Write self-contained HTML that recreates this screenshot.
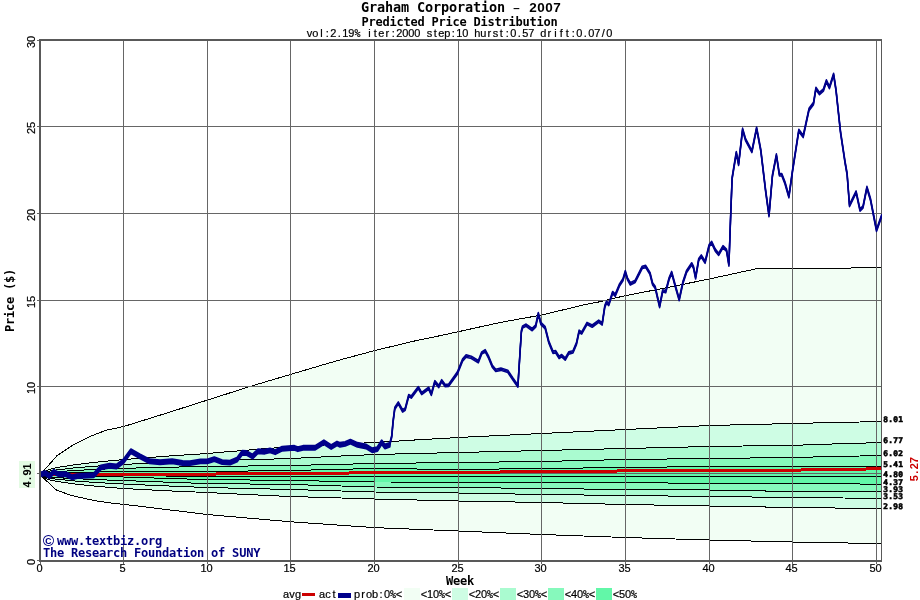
<!DOCTYPE html>
<html><head><meta charset="utf-8"><title>Graham Corporation - 2007</title>
<style>html,body{margin:0;padding:0;background:#fff}body{width:920px;height:600px;position:relative;overflow:hidden}</style></head>
<body>
<svg width="920" height="600" viewBox="0 0 920 600" style="position:absolute;left:0;top:0">
<g shape-rendering="crispEdges">
<polygon points="40.0,474.9 57.0,455.7 72.7,445.2 89.3,436.7 106.0,430.3 123.7,426.5 166.0,413.3 207.7,400.0 249.3,386.7 291.0,374.3 336.0,361.0 375.0,350.5 416.7,340.5 440.0,335.7 458.3,331.7 500.0,322.5 541.7,315.0 583.3,305.0 600.0,301.7 625.0,295.7 660.0,289.0 709.3,279.0 743.3,271.6 757.8,268.5 850.5,268.5 851.5,267.5 881.0,267.5 881.0,543.6 792.4,542.0 708.8,540.0 625.2,537.5 541.6,534.5 458.0,531.0 374.4,527.6 290.8,521.8 207.2,514.5 123.6,504.3 116.0,503.7 94.3,500.6 71.0,495.4 56.4,490.0 47.7,482.0 40.0,474.9" fill="#f2fef4"/>
<polygon points="40.0,474.9 48.4,469.6 56.7,467.6 73.5,464.9 90.2,462.8 106.9,461.1 123.6,459.6 140.4,458.2 157.1,456.9 173.8,455.7 190.6,454.6 207.3,453.5 224.0,452.0 240.7,450.7 257.5,449.3 274.2,448.0 290.9,446.8 307.6,445.9 324.4,445.0 341.1,444.1 357.8,443.3 374.6,442.5 391.3,441.5 408.0,440.4 424.7,439.4 441.5,438.5 458.2,437.5 474.9,436.7 491.7,435.9 508.4,435.1 525.1,434.3 541.8,433.5 558.6,432.7 575.3,431.9 592.0,431.1 608.8,430.3 625.5,429.5 642.2,428.7 658.9,427.9 675.7,427.1 692.4,426.3 709.1,425.5 725.8,425.1 742.6,424.7 759.3,424.3 776.0,423.9 792.8,423.5 809.5,423.1 826.2,422.7 842.9,422.4 859.7,422.0 876.4,421.6 881.4,421.5 881.4,508.5 876.4,508.4 859.7,508.3 842.9,508.1 826.2,507.9 809.5,507.7 792.8,507.5 776.0,507.2 759.3,506.9 742.6,506.6 725.8,506.3 709.1,506.0 692.4,505.7 675.7,505.4 658.9,505.1 642.2,504.8 625.5,504.5 608.8,504.1 592.0,503.7 575.3,503.3 558.6,502.9 541.8,502.5 525.1,502.2 508.4,501.9 491.7,501.6 474.9,501.3 458.2,501.0 441.5,500.6 424.7,500.2 408.0,499.8 391.3,499.4 374.6,499.0 357.8,498.5 341.1,498.0 324.4,497.5 307.6,497.0 290.9,496.5 274.2,495.8 257.5,495.0 240.7,494.2 224.0,493.4 207.3,492.5 190.6,491.8 173.8,491.1 157.1,490.3 140.4,489.4 123.6,488.5 106.9,487.2 90.2,485.7 73.5,483.8 56.7,481.4 48.4,479.6 40.0,474.9" fill="#cefde4"/>
<polygon points="40.0,474.9 48.4,471.3 56.7,469.9 73.5,468.0 90.2,466.6 106.9,465.4 123.6,464.4 140.4,463.6 157.1,462.9 173.8,462.2 190.6,461.6 207.3,461.0 224.0,460.5 240.7,459.9 257.5,459.4 274.2,459.0 290.9,458.5 307.6,457.7 324.4,456.8 341.1,456.0 357.8,455.3 374.6,454.5 391.3,454.1 408.0,453.7 424.7,453.3 441.5,452.9 458.2,452.5 474.9,452.1 491.7,451.7 508.4,451.3 525.1,450.9 541.8,450.5 558.6,450.1 575.3,449.7 592.0,449.3 608.8,448.9 625.5,448.5 642.2,448.1 658.9,447.7 675.7,447.3 692.4,446.9 709.1,446.5 725.8,446.3 742.6,446.0 759.3,445.8 776.0,445.5 792.8,445.3 809.5,444.8 826.2,444.2 842.9,443.7 859.7,443.2 876.4,442.7 881.4,442.5 881.4,498.3 876.4,498.3 859.7,498.1 842.9,498.0 826.2,497.8 809.5,497.7 792.8,497.5 776.0,497.3 759.3,497.1 742.6,496.9 725.8,496.7 709.1,496.5 692.4,496.3 675.7,496.1 658.9,495.9 642.2,495.7 625.5,495.5 608.8,495.3 592.0,495.1 575.3,494.9 558.6,494.7 541.8,494.5 525.1,494.2 508.4,493.9 491.7,493.6 474.9,493.3 458.2,493.0 441.5,492.8 424.7,492.6 408.0,492.4 391.3,492.2 374.6,492.0 357.8,491.5 341.1,491.0 324.4,490.5 307.6,490.0 290.9,489.5 274.2,489.1 257.5,488.7 240.7,488.3 224.0,487.9 207.3,487.5 190.6,486.9 173.8,486.2 157.1,485.5 140.4,484.8 123.6,484.0 106.9,483.1 90.2,482.1 73.5,480.9 56.7,479.2 48.4,478.1 40.0,474.9" fill="#aafbd0"/>
<polygon points="40.0,474.9 48.4,472.6 56.7,471.7 73.5,470.6 90.2,469.7 106.9,468.9 123.6,468.3 140.4,467.9 157.1,467.5 173.8,467.1 190.6,466.8 207.3,466.5 224.0,466.3 240.7,466.1 257.5,465.9 274.2,465.7 290.9,465.5 307.6,465.1 324.4,464.7 341.1,464.3 357.8,463.9 374.6,463.5 391.3,463.3 408.0,463.1 424.7,462.9 441.5,462.7 458.2,462.5 474.9,462.3 491.7,462.1 508.4,461.9 525.1,461.7 541.8,461.5 558.6,461.1 575.3,460.7 592.0,460.3 608.8,459.9 625.5,459.5 642.2,459.3 658.9,459.1 675.7,458.9 692.4,458.7 709.1,458.5 725.8,458.3 742.6,458.1 759.3,457.9 776.0,457.7 792.8,457.5 809.5,457.1 826.2,456.7 842.9,456.4 859.7,456.0 876.4,455.6 881.4,455.5 881.4,491.3 876.4,491.3 859.7,491.3 842.9,491.4 826.2,491.4 809.5,491.5 792.8,491.5 776.0,491.2 759.3,490.9 742.6,490.6 725.8,490.3 709.1,490.0 692.4,489.9 675.7,489.8 658.9,489.7 642.2,489.6 625.5,489.5 608.8,489.3 592.0,489.1 575.3,488.9 558.6,488.7 541.8,488.5 525.1,488.3 508.4,488.1 491.7,487.9 474.9,487.7 458.2,487.5 441.5,487.4 424.7,487.3 408.0,487.2 391.3,487.1 374.6,487.0 357.8,486.5 341.1,486.0 324.4,485.5 307.6,485.0 290.9,484.5 274.2,484.3 257.5,484.1 240.7,483.9 224.0,483.7 207.3,483.5 190.6,483.0 173.8,482.4 157.1,481.8 140.4,481.2 123.6,480.5 106.9,480.0 90.2,479.3 73.5,478.6 56.7,477.6 48.4,476.8 40.0,474.9" fill="#86f9bc"/>
<polygon points="40.0,474.9 48.4,473.7 56.7,473.3 73.5,472.7 90.2,472.2 106.9,471.8 123.6,471.5 140.4,471.5 157.1,471.5 173.8,471.5 190.6,471.5 207.3,471.5 224.0,471.3 240.7,471.1 257.5,470.9 274.2,470.7 290.9,470.5 307.6,470.1 324.4,469.7 341.1,469.3 357.8,468.9 374.6,468.5 391.3,468.7 408.0,468.9 424.7,469.1 441.5,469.3 458.2,469.5 474.9,469.3 491.7,469.1 508.4,468.9 525.1,468.7 541.8,468.5 558.6,468.3 575.3,468.1 592.0,467.9 608.8,467.7 625.5,467.5 642.2,467.3 658.9,467.1 675.7,466.9 692.4,466.7 709.1,466.5 725.8,466.5 742.6,466.5 759.3,466.5 776.0,466.5 792.8,466.5 809.5,466.4 826.2,466.4 842.9,466.3 859.7,466.3 876.4,466.2 881.4,466.2 881.4,484.2 876.4,484.2 859.7,484.0 842.9,483.9 826.2,483.8 809.5,483.6 792.8,483.5 776.0,483.5 759.3,483.5 742.6,483.5 725.8,483.5 709.1,483.5 692.4,483.3 675.7,483.1 658.9,482.9 642.2,482.7 625.5,482.5 608.8,482.5 592.0,482.5 575.3,482.5 558.6,482.5 541.8,482.5 525.1,482.4 508.4,482.3 491.7,482.2 474.9,482.1 458.2,482.0 441.5,482.0 424.7,482.0 408.0,482.0 391.3,482.0 374.6,482.0 357.8,481.7 341.1,481.4 324.4,481.1 307.6,480.8 290.9,480.5 274.2,480.3 257.5,480.1 240.7,479.9 224.0,479.7 207.3,479.5 190.6,479.1 173.8,478.6 157.1,478.1 140.4,477.6 123.6,477.0 106.9,476.8 90.2,476.6 73.5,476.3 56.7,475.9 48.4,475.6 40.0,474.9" fill="#62f7a8"/>
<polyline points="40.0,474.9 48.4,469.6 56.7,467.6 73.5,464.9 90.2,462.8 106.9,461.1 123.6,459.6 140.4,458.2 157.1,456.9 173.8,455.7 190.6,454.6 207.3,453.5 224.0,452.0 240.7,450.7 257.5,449.3 274.2,448.0 290.9,446.8 307.6,445.9 324.4,445.0 341.1,444.1 357.8,443.3 374.6,442.5 391.3,441.5 408.0,440.4 424.7,439.4 441.5,438.5 458.2,437.5 474.9,436.7 491.7,435.9 508.4,435.1 525.1,434.3 541.8,433.5 558.6,432.7 575.3,431.9 592.0,431.1 608.8,430.3 625.5,429.5 642.2,428.7 658.9,427.9 675.7,427.1 692.4,426.3 709.1,425.5 725.8,425.1 742.6,424.7 759.3,424.3 776.0,423.9 792.8,423.5 809.5,423.1 826.2,422.7 842.9,422.4 859.7,422.0 876.4,421.6 881.4,421.5" fill="none" stroke="#000" stroke-width="1"/>
<polyline points="40.0,474.9 48.4,471.3 56.7,469.9 73.5,468.0 90.2,466.6 106.9,465.4 123.6,464.4 140.4,463.6 157.1,462.9 173.8,462.2 190.6,461.6 207.3,461.0 224.0,460.5 240.7,459.9 257.5,459.4 274.2,459.0 290.9,458.5 307.6,457.7 324.4,456.8 341.1,456.0 357.8,455.3 374.6,454.5 391.3,454.1 408.0,453.7 424.7,453.3 441.5,452.9 458.2,452.5 474.9,452.1 491.7,451.7 508.4,451.3 525.1,450.9 541.8,450.5 558.6,450.1 575.3,449.7 592.0,449.3 608.8,448.9 625.5,448.5 642.2,448.1 658.9,447.7 675.7,447.3 692.4,446.9 709.1,446.5 725.8,446.3 742.6,446.0 759.3,445.8 776.0,445.5 792.8,445.3 809.5,444.8 826.2,444.2 842.9,443.7 859.7,443.2 876.4,442.7 881.4,442.5" fill="none" stroke="#000" stroke-width="1"/>
<polyline points="40.0,474.9 48.4,472.6 56.7,471.7 73.5,470.6 90.2,469.7 106.9,468.9 123.6,468.3 140.4,467.9 157.1,467.5 173.8,467.1 190.6,466.8 207.3,466.5 224.0,466.3 240.7,466.1 257.5,465.9 274.2,465.7 290.9,465.5 307.6,465.1 324.4,464.7 341.1,464.3 357.8,463.9 374.6,463.5 391.3,463.3 408.0,463.1 424.7,462.9 441.5,462.7 458.2,462.5 474.9,462.3 491.7,462.1 508.4,461.9 525.1,461.7 541.8,461.5 558.6,461.1 575.3,460.7 592.0,460.3 608.8,459.9 625.5,459.5 642.2,459.3 658.9,459.1 675.7,458.9 692.4,458.7 709.1,458.5 725.8,458.3 742.6,458.1 759.3,457.9 776.0,457.7 792.8,457.5 809.5,457.1 826.2,456.7 842.9,456.4 859.7,456.0 876.4,455.6 881.4,455.5" fill="none" stroke="#000" stroke-width="1"/>
<polyline points="40.0,474.9 48.4,473.7 56.7,473.3 73.5,472.7 90.2,472.2 106.9,471.8 123.6,471.5 140.4,471.5 157.1,471.5 173.8,471.5 190.6,471.5 207.3,471.5 224.0,471.3 240.7,471.1 257.5,470.9 274.2,470.7 290.9,470.5 307.6,470.1 324.4,469.7 341.1,469.3 357.8,468.9 374.6,468.5 391.3,468.7 408.0,468.9 424.7,469.1 441.5,469.3 458.2,469.5 474.9,469.3 491.7,469.1 508.4,468.9 525.1,468.7 541.8,468.5 558.6,468.3 575.3,468.1 592.0,467.9 608.8,467.7 625.5,467.5 642.2,467.3 658.9,467.1 675.7,466.9 692.4,466.7 709.1,466.5 725.8,466.5 742.6,466.5 759.3,466.5 776.0,466.5 792.8,466.5 809.5,466.4 826.2,466.4 842.9,466.3 859.7,466.3 876.4,466.2 881.4,466.2" fill="none" stroke="#000" stroke-width="1"/>
<polyline points="40.0,474.9 48.4,475.1 56.7,475.2 73.5,475.3 90.2,475.4 106.9,475.4 123.6,475.5 140.4,475.7 157.1,475.9 173.8,476.1 190.6,476.3 207.3,476.5 224.0,476.5 240.7,476.5 257.5,476.5 274.2,476.5 290.9,476.5 307.6,476.5 324.4,476.5 341.1,476.5 357.8,476.5 374.6,476.5 391.3,476.5 408.0,476.5 424.7,476.5 441.5,476.5 458.2,476.5 474.9,476.5 491.7,476.5 508.4,476.5 525.1,476.5 541.8,476.5 558.6,476.5 575.3,476.5 592.0,476.5 608.8,476.5 625.5,476.5 642.2,476.5 658.9,476.5 675.7,476.5 692.4,476.5 709.1,476.5 725.8,476.5 742.6,476.5 759.3,476.5 776.0,476.5 792.8,476.5 809.5,476.5 826.2,476.5 842.9,476.6 859.7,476.6 876.4,476.6 881.4,476.6" fill="none" stroke="#000" stroke-width="1"/>
<polyline points="40.0,474.9 48.4,475.6 56.7,475.9 73.5,476.3 90.2,476.6 106.9,476.8 123.6,477.0 140.4,477.6 157.1,478.1 173.8,478.6 190.6,479.1 207.3,479.5 224.0,479.7 240.7,479.9 257.5,480.1 274.2,480.3 290.9,480.5 307.6,480.8 324.4,481.1 341.1,481.4 357.8,481.7 374.6,482.0 391.3,482.0 408.0,482.0 424.7,482.0 441.5,482.0 458.2,482.0 474.9,482.1 491.7,482.2 508.4,482.3 525.1,482.4 541.8,482.5 558.6,482.5 575.3,482.5 592.0,482.5 608.8,482.5 625.5,482.5 642.2,482.7 658.9,482.9 675.7,483.1 692.4,483.3 709.1,483.5 725.8,483.5 742.6,483.5 759.3,483.5 776.0,483.5 792.8,483.5 809.5,483.6 826.2,483.8 842.9,483.9 859.7,484.0 876.4,484.2 881.4,484.2" fill="none" stroke="#000" stroke-width="1"/>
<polyline points="40.0,474.9 48.4,476.8 56.7,477.6 73.5,478.6 90.2,479.3 106.9,480.0 123.6,480.5 140.4,481.2 157.1,481.8 173.8,482.4 190.6,483.0 207.3,483.5 224.0,483.7 240.7,483.9 257.5,484.1 274.2,484.3 290.9,484.5 307.6,485.0 324.4,485.5 341.1,486.0 357.8,486.5 374.6,487.0 391.3,487.1 408.0,487.2 424.7,487.3 441.5,487.4 458.2,487.5 474.9,487.7 491.7,487.9 508.4,488.1 525.1,488.3 541.8,488.5 558.6,488.7 575.3,488.9 592.0,489.1 608.8,489.3 625.5,489.5 642.2,489.6 658.9,489.7 675.7,489.8 692.4,489.9 709.1,490.0 725.8,490.3 742.6,490.6 759.3,490.9 776.0,491.2 792.8,491.5 809.5,491.5 826.2,491.4 842.9,491.4 859.7,491.3 876.4,491.3 881.4,491.3" fill="none" stroke="#000" stroke-width="1"/>
<polyline points="40.0,474.9 48.4,478.1 56.7,479.2 73.5,480.9 90.2,482.1 106.9,483.1 123.6,484.0 140.4,484.8 157.1,485.5 173.8,486.2 190.6,486.9 207.3,487.5 224.0,487.9 240.7,488.3 257.5,488.7 274.2,489.1 290.9,489.5 307.6,490.0 324.4,490.5 341.1,491.0 357.8,491.5 374.6,492.0 391.3,492.2 408.0,492.4 424.7,492.6 441.5,492.8 458.2,493.0 474.9,493.3 491.7,493.6 508.4,493.9 525.1,494.2 541.8,494.5 558.6,494.7 575.3,494.9 592.0,495.1 608.8,495.3 625.5,495.5 642.2,495.7 658.9,495.9 675.7,496.1 692.4,496.3 709.1,496.5 725.8,496.7 742.6,496.9 759.3,497.1 776.0,497.3 792.8,497.5 809.5,497.7 826.2,497.8 842.9,498.0 859.7,498.1 876.4,498.3 881.4,498.3" fill="none" stroke="#000" stroke-width="1"/>
<polyline points="40.0,474.9 48.4,479.6 56.7,481.4 73.5,483.8 90.2,485.7 106.9,487.2 123.6,488.5 140.4,489.4 157.1,490.3 173.8,491.1 190.6,491.8 207.3,492.5 224.0,493.4 240.7,494.2 257.5,495.0 274.2,495.8 290.9,496.5 307.6,497.0 324.4,497.5 341.1,498.0 357.8,498.5 374.6,499.0 391.3,499.4 408.0,499.8 424.7,500.2 441.5,500.6 458.2,501.0 474.9,501.3 491.7,501.6 508.4,501.9 525.1,502.2 541.8,502.5 558.6,502.9 575.3,503.3 592.0,503.7 608.8,504.1 625.5,504.5 642.2,504.8 658.9,505.1 675.7,505.4 692.4,505.7 709.1,506.0 725.8,506.3 742.6,506.6 759.3,506.9 776.0,507.2 792.8,507.5 809.5,507.7 826.2,507.9 842.9,508.1 859.7,508.3 876.4,508.4 881.4,508.5" fill="none" stroke="#000" stroke-width="1"/>
<polyline points="40.0,474.9 57.0,455.7 72.7,445.2 89.3,436.7 106.0,430.3 123.7,426.5 166.0,413.3 207.7,400.0 249.3,386.7 291.0,374.3 336.0,361.0 375.0,350.5 416.7,340.5 440.0,335.7 458.3,331.7 500.0,322.5 541.7,315.0 583.3,305.0 600.0,301.7 625.0,295.7 660.0,289.0 709.3,279.0 743.3,271.6 757.8,268.5 850.5,268.5 851.5,267.5 881.0,267.5" fill="none" stroke="#000" stroke-width="1"/>
<polyline points="40.0,474.9 47.7,482.0 56.4,490.0 71.0,495.4 94.3,500.6 116.0,503.7 123.6,504.3 207.2,514.5 290.8,521.8 374.4,527.6 458.0,531.0 541.6,534.5 625.2,537.5 708.8,540.0 792.4,542.0 881.0,543.6" fill="none" stroke="#000" stroke-width="1"/>
<rect x="123" y="41" width="1" height="523" fill="#666666"/>
<rect x="207" y="41" width="1" height="523" fill="#666666"/>
<rect x="290" y="41" width="1" height="523" fill="#666666"/>
<rect x="374" y="41" width="1" height="523" fill="#666666"/>
<rect x="458" y="41" width="1" height="523" fill="#666666"/>
<rect x="541" y="41" width="1" height="523" fill="#666666"/>
<rect x="625" y="41" width="1" height="523" fill="#666666"/>
<rect x="709" y="41" width="1" height="523" fill="#666666"/>
<rect x="792" y="41" width="1" height="523" fill="#666666"/>
<rect x="876" y="41" width="1" height="523" fill="#666666"/>
<rect x="37" y="473" width="845" height="1" fill="#666666"/>
<rect x="37" y="386" width="845" height="1" fill="#666666"/>
<rect x="37" y="300" width="845" height="1" fill="#666666"/>
<rect x="37" y="213" width="845" height="1" fill="#666666"/>
<rect x="37" y="126" width="845" height="1" fill="#666666"/>
<rect x="40" y="473" width="176" height="3" fill="#cc0000"/>
<rect x="216" y="472" width="133" height="3" fill="#cc0000"/>
<rect x="349" y="471" width="151" height="3" fill="#cc0000"/>
<rect x="500" y="470" width="117" height="3" fill="#cc0000"/>
<rect x="617" y="469" width="184" height="3" fill="#cc0000"/>
<rect x="801" y="468" width="65" height="3" fill="#cc0000"/>
<rect x="866" y="467" width="16" height="3" fill="#cc0000"/>
<rect x="39" y="39" width="2" height="523" fill="#595959"/>
<rect x="39" y="39" width="843" height="2" fill="#595959"/>
<rect x="39" y="560" width="843" height="2" fill="#595959"/>
<rect x="881" y="39" width="1" height="523" fill="#595959"/>
<rect x="37" y="40" width="2" height="1" fill="#666666"/>
<rect x="37" y="560" width="2" height="1" fill="#666666"/>
<rect x="40" y="562" width="1" height="2" fill="#666666"/>
</g>
<clipPath id="pc"><rect x="41" y="41" width="841" height="519"/></clipPath>
<g fill="none" stroke="#00008b" stroke-linejoin="round" stroke-linecap="round" clip-path="url(#pc)">
<polyline points="40.9,474.3 45.2,473.1 49.6,476.1 53.9,471.7 58.3,474.3 66.1,474.3 72.2,477.3 77.4,476.1 93.9,475.2 100.9,467.4 109.6,465.7 116.5,466.5 123.5,461.3 130.8,451.2 140.0,456.4 149.6,461.3 160.0,462.2 172.2,461.3 182.6,463.0 190.0,463.1 200.4,461.4 207.4,461.4 214.3,459.1 222.2,462.1 230.0,462.6 237.0,459.7 242.2,452.7 246.5,453.0 252.6,456.5 257.8,451.3 264.8,451.7 270.0,450.4 275.2,452.2 282.2,448.7 294.3,447.8 297.8,449.2 303.0,447.8 315.2,447.8 323.9,442.3 331.2,447.0 337.0,443.5 340.0,444.8 345.2,443.9 350.4,441.7 357.4,444.8 366.1,446.5 372.2,450.3 377.4,449.1 381.7,442.2 384.9,446.5 389.6,444.8" stroke-width="1.9" transform="translate(0,-2)"/>
<polyline points="40.9,474.3 45.2,473.1 49.6,476.1 53.9,471.7 58.3,474.3 66.1,474.3 72.2,477.3 77.4,476.1 93.9,475.2 100.9,467.4 109.6,465.7 116.5,466.5 123.5,461.3 130.8,451.2 140.0,456.4 149.6,461.3 160.0,462.2 172.2,461.3 182.6,463.0 190.0,463.1 200.4,461.4 207.4,461.4 214.3,459.1 222.2,462.1 230.0,462.6 237.0,459.7 242.2,452.7 246.5,453.0 252.6,456.5 257.8,451.3 264.8,451.7 270.0,450.4 275.2,452.2 282.2,448.7 294.3,447.8 297.8,449.2 303.0,447.8 315.2,447.8 323.9,442.3 331.2,447.0 337.0,443.5 340.0,444.8 345.2,443.9 350.4,441.7 357.4,444.8 366.1,446.5 372.2,450.3 377.4,449.1 381.7,442.2 384.9,446.5 389.6,444.8" stroke-width="1.9" transform="translate(0,-1)"/>
<polyline points="40.9,474.3 45.2,473.1 49.6,476.1 53.9,471.7 58.3,474.3 66.1,474.3 72.2,477.3 77.4,476.1 93.9,475.2 100.9,467.4 109.6,465.7 116.5,466.5 123.5,461.3 130.8,451.2 140.0,456.4 149.6,461.3 160.0,462.2 172.2,461.3 182.6,463.0 190.0,463.1 200.4,461.4 207.4,461.4 214.3,459.1 222.2,462.1 230.0,462.6 237.0,459.7 242.2,452.7 246.5,453.0 252.6,456.5 257.8,451.3 264.8,451.7 270.0,450.4 275.2,452.2 282.2,448.7 294.3,447.8 297.8,449.2 303.0,447.8 315.2,447.8 323.9,442.3 331.2,447.0 337.0,443.5 340.0,444.8 345.2,443.9 350.4,441.7 357.4,444.8 366.1,446.5 372.2,450.3 377.4,449.1 381.7,442.2 384.9,446.5 389.6,444.8" stroke-width="1.9" transform="translate(0,0)"/>
<polyline points="40.9,474.3 45.2,473.1 49.6,476.1 53.9,471.7 58.3,474.3 66.1,474.3 72.2,477.3 77.4,476.1 93.9,475.2 100.9,467.4 109.6,465.7 116.5,466.5 123.5,461.3 130.8,451.2 140.0,456.4 149.6,461.3 160.0,462.2 172.2,461.3 182.6,463.0 190.0,463.1 200.4,461.4 207.4,461.4 214.3,459.1 222.2,462.1 230.0,462.6 237.0,459.7 242.2,452.7 246.5,453.0 252.6,456.5 257.8,451.3 264.8,451.7 270.0,450.4 275.2,452.2 282.2,448.7 294.3,447.8 297.8,449.2 303.0,447.8 315.2,447.8 323.9,442.3 331.2,447.0 337.0,443.5 340.0,444.8 345.2,443.9 350.4,441.7 357.4,444.8 366.1,446.5 372.2,450.3 377.4,449.1 381.7,442.2 384.9,446.5 389.6,444.8" stroke-width="1.9" transform="translate(0,1)"/>
<polyline points="40.9,474.3 45.2,473.1 49.6,476.1 53.9,471.7 58.3,474.3 66.1,474.3 72.2,477.3 77.4,476.1 93.9,475.2 100.9,467.4 109.6,465.7 116.5,466.5 123.5,461.3 130.8,451.2 140.0,456.4 149.6,461.3 160.0,462.2 172.2,461.3 182.6,463.0 190.0,463.1 200.4,461.4 207.4,461.4 214.3,459.1 222.2,462.1 230.0,462.6 237.0,459.7 242.2,452.7 246.5,453.0 252.6,456.5 257.8,451.3 264.8,451.7 270.0,450.4 275.2,452.2 282.2,448.7 294.3,447.8 297.8,449.2 303.0,447.8 315.2,447.8 323.9,442.3 331.2,447.0 337.0,443.5 340.0,444.8 345.2,443.9 350.4,441.7 357.4,444.8 366.1,446.5 372.2,450.3 377.4,449.1 381.7,442.2 384.9,446.5 389.6,444.8" stroke-width="1.9" transform="translate(0,2)"/>
<polyline points="389.6,444.8 391.8,436.1 393.0,422.2 394.8,408.3 398.3,403.0 402.6,410.9 405.2,409.1 408.7,395.7 411.3,397.0 418.3,387.7 421.7,393.5 428.7,388.3 431.3,394.3 434.8,381.8 438.8,386.5 441.7,380.8 445.2,385.6 448.7,385.2 457.4,373.0 462.6,360.0 466.1,356.0 471.3,357.4 478.3,361.7 481.7,353.0 485.2,350.8 488.7,357.4 492.2,366.1 495.7,370.4 500.9,369.2 507.8,371.3 513.0,379.1 517.9,386.1 519.7,357.4 521.4,331.3 522.6,327.0 526.1,325.2 532.2,329.6 535.7,326.1 538.3,313.6 540.9,323.5 545.2,327.8 548.7,341.7 553.0,352.2 555.7,351.8 559.1,357.4 561.7,355.7 565.2,359.1 568.7,353.0 573.0,351.8 576.5,343.5 579.1,331.3 581.7,333.0 587.0,323.5 592.2,326.1 598.7,321.3 602.2,323.9 604.8,306.5 606.5,302.2 608.8,304.4 612.6,292.6 615.2,295.2 619.6,284.8 623.0,279.6 625.3,271.7 627.4,278.7 630.3,283.9 635.2,281.3 642.2,267.4 645.7,266.5 650.0,273.5 652.6,283.9 655.2,287.4 659.6,306.5 662.7,290.9 665.7,291.7 669.1,278.7 671.7,272.6 675.2,285.7 679.2,299.6 683.0,282.2 686.5,271.7 691.7,263.9 693.5,267.4 695.6,277.8 698.7,259.6 701.3,256.1 705.1,262.2 709.1,245.7 711.7,242.5 715.2,250.0 718.7,254.3 723.0,246.8 726.5,250.2 728.9,265.0 730.5,220.2 732.1,178.3 736.3,152.6 738.6,164.3 742.6,129.3 745.6,139.8 751.9,151.5 756.6,128.2 760.8,150.3 765.5,189.9 769.0,215.6 772.4,175.9 776.4,155.0 779.4,174.8 781.8,174.8 785.0,183.0 788.9,196.7 792.5,171.0 798.8,130.5 803.2,136.4 809.0,109.5 813.5,103.5 815.9,88.5 819.5,93.6 823.4,90.0 826.4,81.0 829.4,87.6 833.6,74.4 836.0,90.0 840.5,132.0 845.0,162.0 847.1,174.0 849.5,205.5 856.1,192.0 860.0,210.0 863.0,207.0 866.9,187.5 870.5,199.5 876.5,230.4 881.6,216.0" stroke-width="1.5" transform="translate(0,-1.2)"/>
<polyline points="389.6,444.8 391.8,436.1 393.0,422.2 394.8,408.3 398.3,403.0 402.6,410.9 405.2,409.1 408.7,395.7 411.3,397.0 418.3,387.7 421.7,393.5 428.7,388.3 431.3,394.3 434.8,381.8 438.8,386.5 441.7,380.8 445.2,385.6 448.7,385.2 457.4,373.0 462.6,360.0 466.1,356.0 471.3,357.4 478.3,361.7 481.7,353.0 485.2,350.8 488.7,357.4 492.2,366.1 495.7,370.4 500.9,369.2 507.8,371.3 513.0,379.1 517.9,386.1 519.7,357.4 521.4,331.3 522.6,327.0 526.1,325.2 532.2,329.6 535.7,326.1 538.3,313.6 540.9,323.5 545.2,327.8 548.7,341.7 553.0,352.2 555.7,351.8 559.1,357.4 561.7,355.7 565.2,359.1 568.7,353.0 573.0,351.8 576.5,343.5 579.1,331.3 581.7,333.0 587.0,323.5 592.2,326.1 598.7,321.3 602.2,323.9 604.8,306.5 606.5,302.2 608.8,304.4 612.6,292.6 615.2,295.2 619.6,284.8 623.0,279.6 625.3,271.7 627.4,278.7 630.3,283.9 635.2,281.3 642.2,267.4 645.7,266.5 650.0,273.5 652.6,283.9 655.2,287.4 659.6,306.5 662.7,290.9 665.7,291.7 669.1,278.7 671.7,272.6 675.2,285.7 679.2,299.6 683.0,282.2 686.5,271.7 691.7,263.9 693.5,267.4 695.6,277.8 698.7,259.6 701.3,256.1 705.1,262.2 709.1,245.7 711.7,242.5 715.2,250.0 718.7,254.3 723.0,246.8 726.5,250.2 728.9,265.0 730.5,220.2 732.1,178.3 736.3,152.6 738.6,164.3 742.6,129.3 745.6,139.8 751.9,151.5 756.6,128.2 760.8,150.3 765.5,189.9 769.0,215.6 772.4,175.9 776.4,155.0 779.4,174.8 781.8,174.8 785.0,183.0 788.9,196.7 792.5,171.0 798.8,130.5 803.2,136.4 809.0,109.5 813.5,103.5 815.9,88.5 819.5,93.6 823.4,90.0 826.4,81.0 829.4,87.6 833.6,74.4 836.0,90.0 840.5,132.0 845.0,162.0 847.1,174.0 849.5,205.5 856.1,192.0 860.0,210.0 863.0,207.0 866.9,187.5 870.5,199.5 876.5,230.4 881.6,216.0" stroke-width="1.5" transform="translate(0,0.0)"/>
<polyline points="389.6,444.8 391.8,436.1 393.0,422.2 394.8,408.3 398.3,403.0 402.6,410.9 405.2,409.1 408.7,395.7 411.3,397.0 418.3,387.7 421.7,393.5 428.7,388.3 431.3,394.3 434.8,381.8 438.8,386.5 441.7,380.8 445.2,385.6 448.7,385.2 457.4,373.0 462.6,360.0 466.1,356.0 471.3,357.4 478.3,361.7 481.7,353.0 485.2,350.8 488.7,357.4 492.2,366.1 495.7,370.4 500.9,369.2 507.8,371.3 513.0,379.1 517.9,386.1 519.7,357.4 521.4,331.3 522.6,327.0 526.1,325.2 532.2,329.6 535.7,326.1 538.3,313.6 540.9,323.5 545.2,327.8 548.7,341.7 553.0,352.2 555.7,351.8 559.1,357.4 561.7,355.7 565.2,359.1 568.7,353.0 573.0,351.8 576.5,343.5 579.1,331.3 581.7,333.0 587.0,323.5 592.2,326.1 598.7,321.3 602.2,323.9 604.8,306.5 606.5,302.2 608.8,304.4 612.6,292.6 615.2,295.2 619.6,284.8 623.0,279.6 625.3,271.7 627.4,278.7 630.3,283.9 635.2,281.3 642.2,267.4 645.7,266.5 650.0,273.5 652.6,283.9 655.2,287.4 659.6,306.5 662.7,290.9 665.7,291.7 669.1,278.7 671.7,272.6 675.2,285.7 679.2,299.6 683.0,282.2 686.5,271.7 691.7,263.9 693.5,267.4 695.6,277.8 698.7,259.6 701.3,256.1 705.1,262.2 709.1,245.7 711.7,242.5 715.2,250.0 718.7,254.3 723.0,246.8 726.5,250.2 728.9,265.0 730.5,220.2 732.1,178.3 736.3,152.6 738.6,164.3 742.6,129.3 745.6,139.8 751.9,151.5 756.6,128.2 760.8,150.3 765.5,189.9 769.0,215.6 772.4,175.9 776.4,155.0 779.4,174.8 781.8,174.8 785.0,183.0 788.9,196.7 792.5,171.0 798.8,130.5 803.2,136.4 809.0,109.5 813.5,103.5 815.9,88.5 819.5,93.6 823.4,90.0 826.4,81.0 829.4,87.6 833.6,74.4 836.0,90.0 840.5,132.0 845.0,162.0 847.1,174.0 849.5,205.5 856.1,192.0 860.0,210.0 863.0,207.0 866.9,187.5 870.5,199.5 876.5,230.4 881.6,216.0" stroke-width="1.5" transform="translate(0,1.2)"/>
</g>
<g shape-rendering="crispEdges">
<rect x="302" y="593" width="13" height="3" fill="#cc0000"/>
<rect x="338" y="593" width="13" height="5" fill="#00008b"/>
<rect x="404" y="588" width="16" height="12" fill="#f2fef4"/>
<rect x="452" y="588" width="16" height="12" fill="#cefde4"/>
<rect x="500" y="588" width="16" height="12" fill="#aafbd0"/>
<rect x="548" y="588" width="16" height="12" fill="#86f9bc"/>
<rect x="596" y="588" width="16" height="12" fill="#62f7a8"/>
<rect x="19" y="461" width="16" height="27" fill="#e4fbe4"/>
</g>
<text x="361" y="12" style="font-family:'DejaVu Sans Mono','Liberation Mono',monospace;font-weight:bold;font-size:13.5px;letter-spacing:-0.13px" >Graham Corporation</text>
<text x="516.5" y="11.5" text-anchor="middle" style="font-family:'Liberation Sans','DejaVu Sans',sans-serif;font-size:11.5px;font-weight:bold" >–</text>
<text x="533.0 541.0 549.0 557.0" y="12" text-anchor="middle" style="font-family:'Liberation Sans','DejaVu Sans',sans-serif;font-size:13.5px;font-weight:bold" >2007</text>
<text x="361.5" y="26" style="font-family:'DejaVu Sans Mono','Liberation Mono',monospace;font-weight:bold;font-size:12px;letter-spacing:-0.22px" >Predicted Price Distribution</text>
<text x="309.4 315.4 321.4 327.4 333.4 339.4 345.4 351.4 357.4 363.4 369.4 375.4 381.4 387.4 393.4 399.4 405.4 411.4 417.4 423.4 429.4 435.4 441.4 447.4 453.4 459.4 465.4 471.4 477.4 483.4 489.4 495.4 501.4 507.4 513.4 519.4 525.4 531.4 537.4 543.4 549.4 555.4 561.4 567.4 573.4 579.4 585.4 591.4 597.4 603.4 609.4" y="37" text-anchor="middle" style="font-family:'Liberation Sans','DejaVu Sans',sans-serif;font-size:11px;stroke-width:0.2px;stroke:currentColor" >vol:2.19<tspan style="font-family:'Liberation Sans Narrow','DejaVu Sans Mono',monospace;font-size:10px">%</tspan> iter:2000 step:10 hurst:0.57 drift:0.07/0</text>
<text x="39.5" y="572" text-anchor="middle" style="font-family:'Liberation Sans','DejaVu Sans',sans-serif;font-size:11px;stroke-width:0.2px;stroke:currentColor" >0</text>
<text x="122.5" y="572" text-anchor="middle" style="font-family:'Liberation Sans','DejaVu Sans',sans-serif;font-size:11px;stroke-width:0.2px;stroke:currentColor" >5</text>
<text x="203.5 209.5" y="572" text-anchor="middle" style="font-family:'Liberation Sans','DejaVu Sans',sans-serif;font-size:11px;stroke-width:0.2px;stroke:currentColor" >10</text>
<text x="286.5 292.5" y="572" text-anchor="middle" style="font-family:'Liberation Sans','DejaVu Sans',sans-serif;font-size:11px;stroke-width:0.2px;stroke:currentColor" >15</text>
<text x="370.5 376.5" y="572" text-anchor="middle" style="font-family:'Liberation Sans','DejaVu Sans',sans-serif;font-size:11px;stroke-width:0.2px;stroke:currentColor" >20</text>
<text x="454.5 460.5" y="572" text-anchor="middle" style="font-family:'Liberation Sans','DejaVu Sans',sans-serif;font-size:11px;stroke-width:0.2px;stroke:currentColor" >25</text>
<text x="537.5 543.5" y="572" text-anchor="middle" style="font-family:'Liberation Sans','DejaVu Sans',sans-serif;font-size:11px;stroke-width:0.2px;stroke:currentColor" >30</text>
<text x="621.5 627.5" y="572" text-anchor="middle" style="font-family:'Liberation Sans','DejaVu Sans',sans-serif;font-size:11px;stroke-width:0.2px;stroke:currentColor" >35</text>
<text x="705.5 711.5" y="572" text-anchor="middle" style="font-family:'Liberation Sans','DejaVu Sans',sans-serif;font-size:11px;stroke-width:0.2px;stroke:currentColor" >40</text>
<text x="788.5 794.5" y="572" text-anchor="middle" style="font-family:'Liberation Sans','DejaVu Sans',sans-serif;font-size:11px;stroke-width:0.2px;stroke:currentColor" >45</text>
<text x="872.5 878.5" y="572" text-anchor="middle" style="font-family:'Liberation Sans','DejaVu Sans',sans-serif;font-size:11px;stroke-width:0.2px;stroke:currentColor" >50</text>
<text x="3.0" y="0" text-anchor="middle" style="font-family:'Liberation Sans','DejaVu Sans',sans-serif;font-size:11px;stroke-width:0.2px;stroke:currentColor" transform="translate(35,565) rotate(-90)">0</text>
<text x="3.0 9.0" y="0" text-anchor="middle" style="font-family:'Liberation Sans','DejaVu Sans',sans-serif;font-size:11px;stroke-width:0.2px;stroke:currentColor" transform="translate(35,394) rotate(-90)">10</text>
<text x="3.0 9.0" y="0" text-anchor="middle" style="font-family:'Liberation Sans','DejaVu Sans',sans-serif;font-size:11px;stroke-width:0.2px;stroke:currentColor" transform="translate(35,308) rotate(-90)">15</text>
<text x="3.0 9.0" y="0" text-anchor="middle" style="font-family:'Liberation Sans','DejaVu Sans',sans-serif;font-size:11px;stroke-width:0.2px;stroke:currentColor" transform="translate(35,221) rotate(-90)">20</text>
<text x="3.0 9.0" y="0" text-anchor="middle" style="font-family:'Liberation Sans','DejaVu Sans',sans-serif;font-size:11px;stroke-width:0.2px;stroke:currentColor" transform="translate(35,134) rotate(-90)">25</text>
<text x="3.0 9.0" y="0" text-anchor="middle" style="font-family:'Liberation Sans','DejaVu Sans',sans-serif;font-size:11px;stroke-width:0.2px;stroke:currentColor" transform="translate(35,48) rotate(-90)">30</text>
<text x="0" y="0" style="font-family:'DejaVu Sans Mono','Liberation Mono',monospace;font-weight:bold;font-size:12px;letter-spacing:-0.22px" transform="translate(14,332) rotate(-90)">Price ($)</text>
<text x="3.0 9.0 15.0 21.0" y="0" text-anchor="middle" style="font-family:'Liberation Sans','DejaVu Sans',sans-serif;font-size:11px;font-weight:bold" transform="translate(30.9,487.4) rotate(-90)">4.91</text>
<text x="3.0 9.0 15.0 21.0" y="0" text-anchor="middle" style="font-family:'Liberation Sans','DejaVu Sans',sans-serif;font-size:11px;font-weight:bold;fill:#cc0000" transform="translate(918,481.2) rotate(-90)">5.27</text>
<text x="883.3" y="422" style="font-family:'DejaVu Sans Mono','Liberation Mono',monospace;font-weight:bold;font-size:7.8px;letter-spacing:0.3px;stroke:#000;stroke-width:0.6px" >8.01</text>
<text x="883.3" y="443" style="font-family:'DejaVu Sans Mono','Liberation Mono',monospace;font-weight:bold;font-size:7.8px;letter-spacing:0.3px;stroke:#000;stroke-width:0.6px" >6.77</text>
<text x="883.3" y="456" style="font-family:'DejaVu Sans Mono','Liberation Mono',monospace;font-weight:bold;font-size:7.8px;letter-spacing:0.3px;stroke:#000;stroke-width:0.6px" >6.02</text>
<text x="883.3" y="467" style="font-family:'DejaVu Sans Mono','Liberation Mono',monospace;font-weight:bold;font-size:7.8px;letter-spacing:0.3px;stroke:#000;stroke-width:0.6px" >5.41</text>
<text x="883.3" y="477" style="font-family:'DejaVu Sans Mono','Liberation Mono',monospace;font-weight:bold;font-size:7.8px;letter-spacing:0.3px;stroke:#000;stroke-width:0.6px" >4.80</text>
<text x="883.3" y="485" style="font-family:'DejaVu Sans Mono','Liberation Mono',monospace;font-weight:bold;font-size:7.8px;letter-spacing:0.3px;stroke:#000;stroke-width:0.6px" >4.37</text>
<text x="883.3" y="492" style="font-family:'DejaVu Sans Mono','Liberation Mono',monospace;font-weight:bold;font-size:7.8px;letter-spacing:0.3px;stroke:#000;stroke-width:0.6px" >3.93</text>
<text x="883.3" y="499" style="font-family:'DejaVu Sans Mono','Liberation Mono',monospace;font-weight:bold;font-size:7.8px;letter-spacing:0.3px;stroke:#000;stroke-width:0.6px" >3.53</text>
<text x="883.3" y="509" style="font-family:'DejaVu Sans Mono','Liberation Mono',monospace;font-weight:bold;font-size:7.8px;letter-spacing:0.3px;stroke:#000;stroke-width:0.6px" >2.98</text>
<text x="446" y="585" style="font-family:'DejaVu Sans Mono','Liberation Mono',monospace;font-weight:bold;font-size:12px;letter-spacing:-0.22px" >Week</text>
<text x="286.0 292.0 298.0" y="598" text-anchor="middle" style="font-family:'Liberation Sans','DejaVu Sans',sans-serif;font-size:11px;stroke-width:0.2px;stroke:currentColor" >avg</text>
<text x="322.0 328.0 334.0" y="598" text-anchor="middle" style="font-family:'Liberation Sans','DejaVu Sans',sans-serif;font-size:11px;stroke-width:0.2px;stroke:currentColor" >act</text>
<text x="357.0 363.0 369.0 375.0 381.0 387.0 393.0 399.0" y="598" text-anchor="middle" style="font-family:'Liberation Sans','DejaVu Sans',sans-serif;font-size:11px;stroke-width:0.2px;stroke:currentColor" >prob:0<tspan style="font-family:'Liberation Sans Narrow','DejaVu Sans Mono',monospace;font-size:10px">%</tspan>&lt;</text>
<text x="424.0 430.0 436.0 442.0 448.0" y="598" text-anchor="middle" style="font-family:'Liberation Sans','DejaVu Sans',sans-serif;font-size:11px;stroke-width:0.2px;stroke:currentColor" >&lt;10<tspan style="font-family:'Liberation Sans Narrow','DejaVu Sans Mono',monospace;font-size:10px">%</tspan>&lt;</text>
<text x="472.0 478.0 484.0 490.0 496.0" y="598" text-anchor="middle" style="font-family:'Liberation Sans','DejaVu Sans',sans-serif;font-size:11px;stroke-width:0.2px;stroke:currentColor" >&lt;20<tspan style="font-family:'Liberation Sans Narrow','DejaVu Sans Mono',monospace;font-size:10px">%</tspan>&lt;</text>
<text x="520.0 526.0 532.0 538.0 544.0" y="598" text-anchor="middle" style="font-family:'Liberation Sans','DejaVu Sans',sans-serif;font-size:11px;stroke-width:0.2px;stroke:currentColor" >&lt;30<tspan style="font-family:'Liberation Sans Narrow','DejaVu Sans Mono',monospace;font-size:10px">%</tspan>&lt;</text>
<text x="568.0 574.0 580.0 586.0 592.0" y="598" text-anchor="middle" style="font-family:'Liberation Sans','DejaVu Sans',sans-serif;font-size:11px;stroke-width:0.2px;stroke:currentColor" >&lt;40<tspan style="font-family:'Liberation Sans Narrow','DejaVu Sans Mono',monospace;font-size:10px">%</tspan>&lt;</text>
<text x="616.0 622.0 628.0 634.0" y="598" text-anchor="middle" style="font-family:'Liberation Sans','DejaVu Sans',sans-serif;font-size:11px;stroke-width:0.2px;stroke:currentColor" >&lt;50<tspan style="font-family:'Liberation Sans Narrow','DejaVu Sans Mono',monospace;font-size:10px">%</tspan></text>
<text x="48.5" y="546.3" text-anchor="middle" style="font-family:'Liberation Sans','DejaVu Sans',sans-serif;font-weight:bold;font-size:15.5px;fill:#000080">©</text>
<text x="57" y="545" style="font-family:'DejaVu Sans Mono','Liberation Mono',monospace;font-weight:bold;font-size:12px;letter-spacing:-0.22px;fill:#000080" >www.textbiz.org</text>
<text x="43" y="557" style="font-family:'DejaVu Sans Mono','Liberation Mono',monospace;font-weight:bold;font-size:12px;letter-spacing:-0.22px;fill:#000080" >The Research Foundation of SUNY</text>
</svg>
</body></html>
